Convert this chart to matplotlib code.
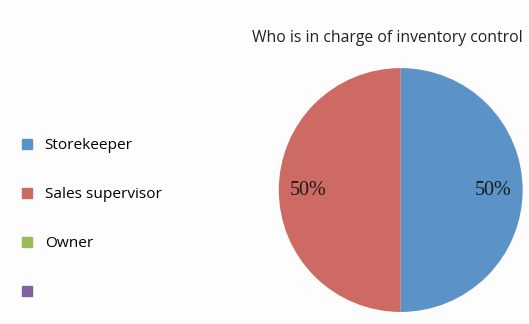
import matplotlib.pyplot as plt
from matplotlib.lines import Line2D

labels = ["Storekeeper", "Sales supervisor", "Owner", ""]
values = [50, 50, 0, 0]
colors = ["#5b93c9", "#cc6a63", "#9bbb59", "#8064a2"]
title = "Who is in charge of inventory control"

fig = plt.figure(figsize=(5.29, 3.24), dpi=100)
fig.patch.set_facecolor("#fdfdfd")

ax = fig.add_axes([0.527, 0.037, 0.461, 0.753])
wedges, texts, autotexts = ax.pie(
    values, colors=colors, startangle=90, counterclock=False,
    autopct=lambda p: f"{p:.0f}%" if p > 0 else "",
    pctdistance=0.76, wedgeprops=dict(linewidth=0),
    textprops=dict(family="Liberation Serif", fontsize=14.5, color="#1a1a1a"),
)
ax.set_xlim(-1, 1)
ax.set_ylim(-1, 1)
ax.set_aspect("equal")

fig.text(0.733, 0.883, title, ha="center", va="center",
         family="Open Sans", fontsize=11.3, color="#222222")

handles = [Line2D([], [], marker="s", linestyle="", markersize=7,
                  markerfacecolor=c, markeredgecolor=c) for c in colors]
fig.legend(handles, labels, loc="center left", bbox_to_anchor=(0.013, 0.323),
           frameon=False, handlelength=0.8, handletextpad=0.75,
           labelspacing=2.22, prop=dict(family="Open Sans", size=11.1))

plt.savefig("out.png", dpi=100, facecolor=fig.get_facecolor())
